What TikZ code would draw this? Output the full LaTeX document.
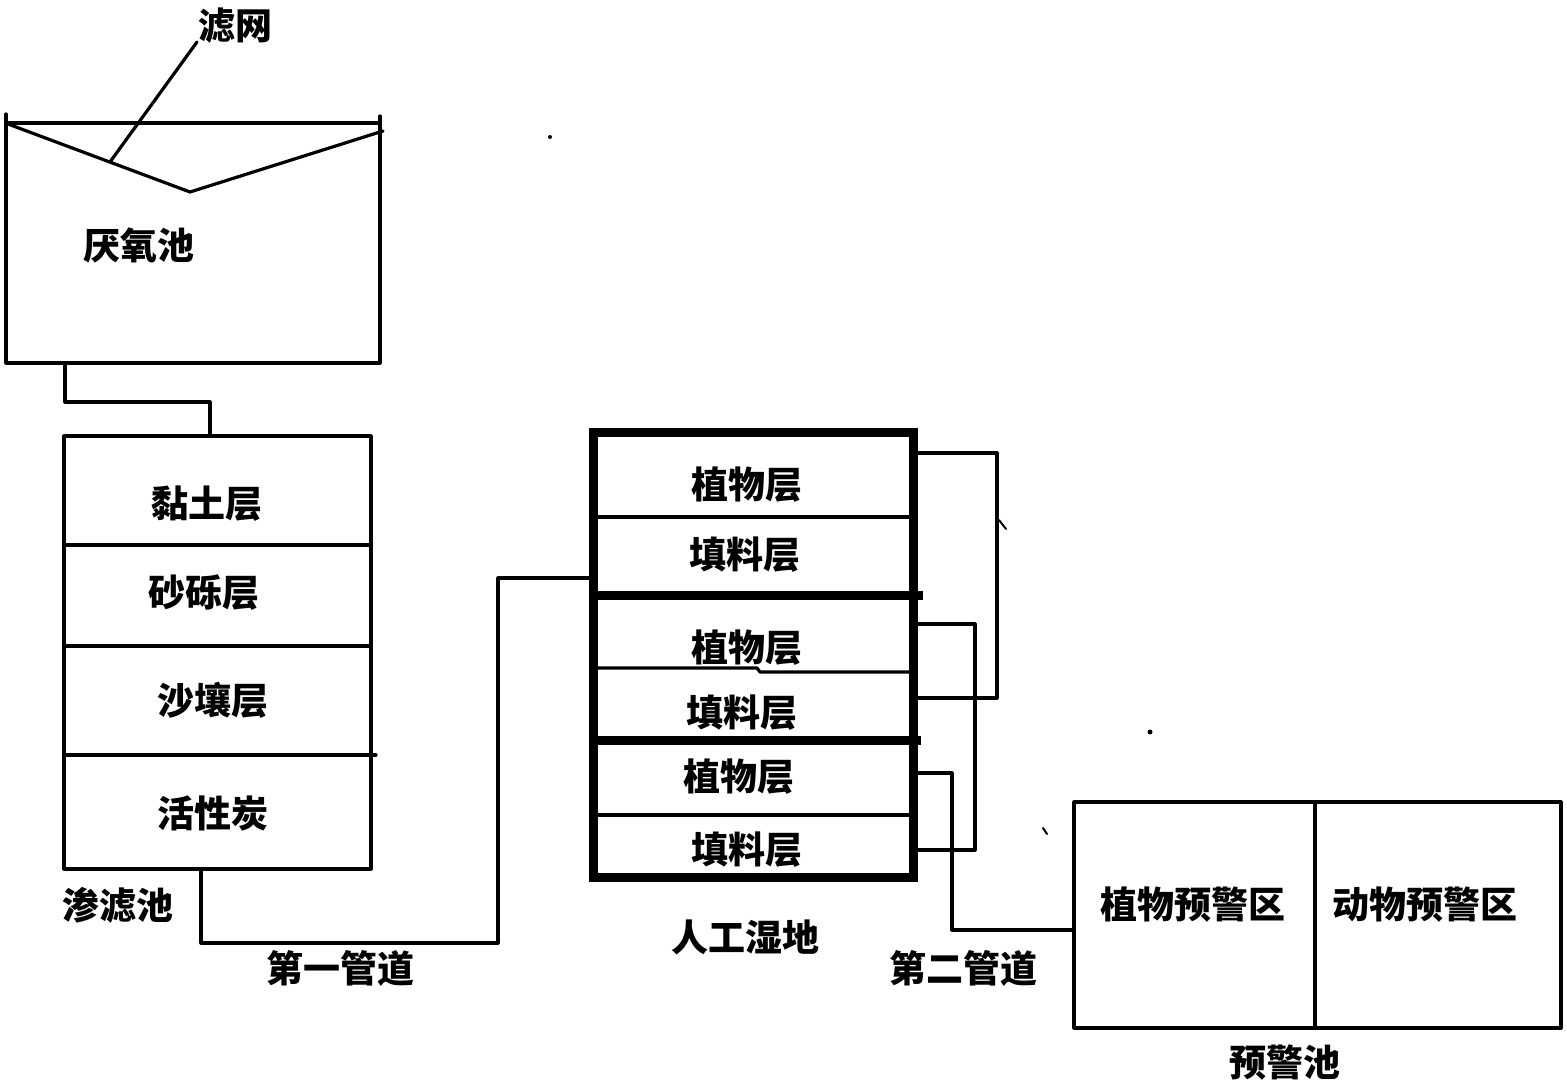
\documentclass[tikz,border=0pt]{standalone}
\usepackage{fontspec}
\newfontfamily\cjk{Noto Sans CJK SC}
\begin{document}
\begin{tikzpicture}[x=1pt,y=-1pt,
  thin line/.style={line width=3.2pt, line cap=round, line join=round},
  thick line/.style={line width=9pt, line join=miter},
  box/.style={draw, thin line, inner sep=0pt, outer sep=0pt},
  lbl/.style={font=\cjk\bfseries\fontsize{37}{42}\selectfont, inner sep=0pt}]
\useasboundingbox (0,0) rectangle (1567,1085);
% boxes
\node[box, minimum width=374pt, minimum height=240pt] (ana) at (193,243) {};
\node[box, minimum width=307pt, minimum height=433pt] (perc) at (217.5,652.5) {};
\node[draw, thick line, inner sep=0pt, outer sep=0pt, minimum width=320pt, minimum height=445pt] (wet) at (753,654.5) {};
\node[box, minimum width=487pt, minimum height=226pt] (warn) at (1317.5,915) {};
% anaerobic tank details
\draw[thin line] (ana.north west) -- ++(0,-9);
\draw[thin line] (ana.north east) -- ++(0,-7);
\coordinate (fl) at (8,124);
\coordinate (fm) at (190,192);
\coordinate (fr) at (383,131);
\draw[thin line] (fl) -- (fm) -- (fr);
\coordinate (lead) at (110,162);
\node[lbl] (mesh) at (235,26) {滤网};
\draw[thin line] (lead) -- (197,42);
\node[lbl] (tana) at (139,245) {厌氧池};
% pipe anaerobic -> percolation
\draw[thin line] ([xshift=59pt]ana.south west) -- ++(0,39) -| ([xshift=146pt]perc.north west);
% percolation layers
\draw[thin line] (perc.west |- 0,545) -- (perc.east |- 0,545);
\draw[thin line] (perc.west |- 0,646) -- (perc.east |- 0,646);
\draw[thin line] (perc.west |- 0,755) -- (376,755);
\node[lbl] (p1) at (207,504) {黏土层};
\node[lbl] (p2) at (204,593) {砂砾层};
\node[lbl] (p3) at (213,700) {沙壤层};
\node[lbl] (p4) at (213,813) {活性炭};
\node[lbl] (tperc) at (118,905) {渗滤池};
% first pipe
\draw[thin line] ([xshift=137pt]perc.south west) -- (201,943) -| (498,578) -- (wet.west |- 0,578);
\node[lbl] (pipe1) at (340,968) {第一管道};
% wetland layers
\draw[thin line] (wet.west |- 0,517) -- (wet.east |- 0,517);
\draw[thick line] (wet.west |- 0,595) -- (923,595);
\draw[thin line] (wet.west |- 0,668) -- (757,668) -- (760,672) -- (wet.east |- 0,672);
\draw[thick line] (wet.west |- 0,740) -- (921,740);
\draw[thin line] (wet.west |- 0,815) -- (wet.east |- 0,815);
\node[lbl] (w1) at (747,485) {植物层};
\node[lbl] (w2) at (745,555) {填料层};
\node[lbl] (w3) at (747,648) {植物层};
\node[lbl] (w4) at (742,713) {填料层};
\node[lbl] (w5) at (739,777) {植物层};
\node[lbl] (w6) at (747,850) {填料层};
\node[lbl] (twet) at (745,937) {人工湿地};
% wetland side connectors
\draw[thin line] ([xshift=4pt]wet.east |- 0,453) -| (997,698) -- ([xshift=4pt]wet.east |- 0,698);
\draw[thin line] ([xshift=4pt]wet.east |- 0,624) -| (975,850) -- ([xshift=4pt]wet.east |- 0,850);
% second pipe
\draw[thin line] ([xshift=4pt]wet.east |- 0,773) -| (952,930) -- (warn.west |- 0,930);
\node[lbl] (pipe2) at (963,968) {第二管道};
% warning pool
\draw[thin line] (1315,0 |- warn.north) -- (1315,0 |- warn.south);
\node[lbl] (wp1) at (1193,905) {植物预警区};
\node[lbl] (wp2) at (1425,905) {动物预警区};
\node[lbl] (twarn) at (1285,1062) {预警池};
% stray marks
\draw[line width=2pt, line cap=round] (999,520) -- (1006,529);
\draw[line width=2pt, line cap=round] (1043,828) -- (1047,834);
\fill (550,137) circle (2pt);
\fill (1150,732) circle (2.5pt);
\end{tikzpicture}
\end{document}
